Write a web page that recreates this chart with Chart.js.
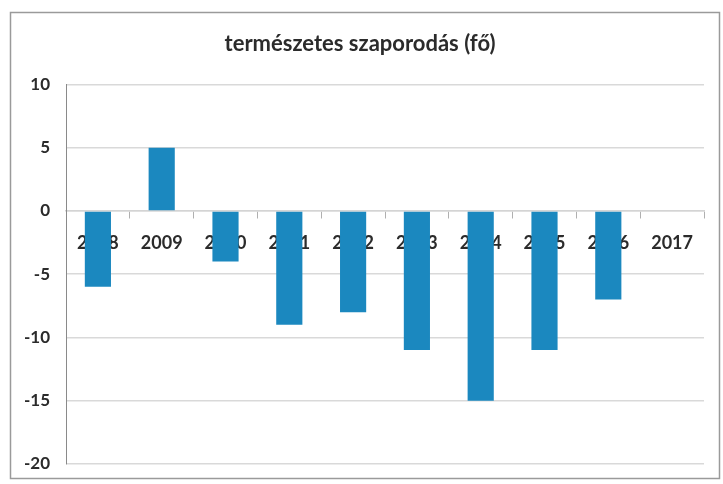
<!DOCTYPE html>
<html>
<head>
<meta charset="utf-8">
<script src="https://cdn.jsdelivr.net/npm/chart.js@4.4.1/dist/chart.umd.min.js"></script>
<style>
  html, body { margin: 0; padding: 0; background: #fff; }
  #wrap { width: 723px; height: 484px; }
</style>
</head>
<body>
<div id="wrap"><canvas id="chart"></canvas></div>
<script>
// természetes szaporodás (fő), évenként
const years = ['2008', '2009', '2010', '2011', '2012', '2013', '2014', '2015', '2016', '2017'];
const values = [-6, 5, -4, -9, -8, -11, -15, -11, -7, 0];

const yMin = -20;
const yMax = 10;
const yStep = 5;

// white background + thin frame like the scanned chart box
const frame = {
    id: 'frame',
    beforeDraw(chart) {
        const ctx = chart.ctx;
        ctx.save();
        ctx.fillStyle = '#fff';
        ctx.fillRect(0, 0, chart.width, chart.height);
        ctx.strokeStyle = '#9a9a9a';
        ctx.lineWidth = 1.5;
        ctx.strokeRect(10.5, 12.5, chart.width - 14, chart.height - 18);
        ctx.restore();
    }
};

new Chart(document.getElementById('chart'), {
    type: 'bar',
    data: {
        labels: years,
        datasets: [{
            label: 'természetes szaporodás (fő)',
            data: values,
            backgroundColor: '#1b88bf',
            barPercentage: 0.82,
            categoryPercentage: 0.5
        }]
    },
    options: {
        responsive: true,
        maintainAspectRatio: false,
        animation: false,
        layout: { padding: { left: 16, right: 19, top: 0, bottom: 20 } },
        plugins: {
            legend: { display: false },
            tooltip: { enabled: false },
            title: {
                display: true,
                text: 'természetes szaporodás (fő)',
                color: '#2b2b2b',
                font: { family: 'Lato', size: 22, weight: 'bold' },
                padding: { top: 31, bottom: 27 }
            }
        },
        scales: {
            x: {
                position: { y: 0 },
                // the axis sits on the zero line, so it needs no room of its own
                afterFit(scale) { scale.height = 0; },
                grid: {
                    offset: true,
                    drawOnChartArea: false,
                    drawTicks: true,
                    tickLength: 7,
                    color: '#b0b0b0'
                },
                border: { display: true, color: '#d4d4d4', width: 1.5 },
                ticks: {
                    color: '#2b2b2b',
                    padding: 14,
                    maxRotation: 0,
                    font: { family: 'Lato', size: 18, weight: 'bold' }
                }
            },
            y: {
                min: yMin,
                max: yMax,
                afterFit(scale) {
                    scale.width = 50;
                    scale.paddingTop = 0;
                    scale.paddingBottom = 0;
                },
                grid: {
                    color: '#d9d9d9',
                    lineWidth: 1.5,
                    drawTicks: false
                },
                border: { display: true, color: '#8a8a8a', width: 1 },
                ticks: {
                    stepSize: yStep,
                    color: '#2b2b2b',
                    padding: 16,
                    font: { family: 'Lato', size: 17, weight: 'bold' }
                }
            }
        }
    },
    plugins: [frame]
});
</script>
</body>
</html>
